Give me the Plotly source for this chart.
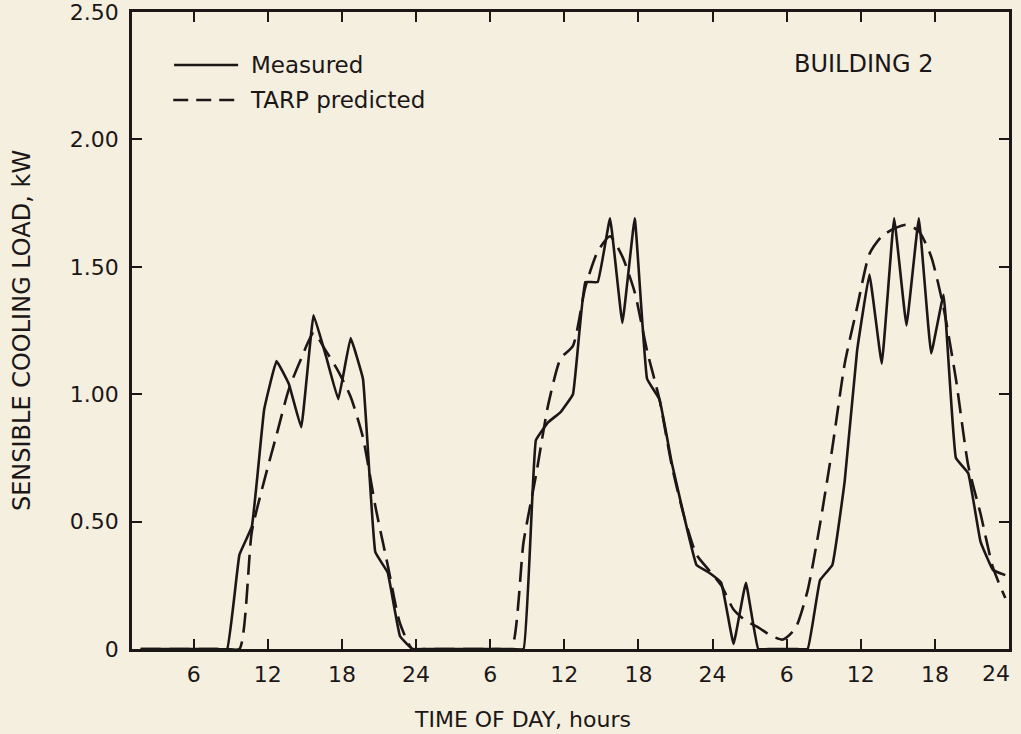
import plotly.graph_objects as go

# Hourly samples (plotted at n + 0.7 h, n = 1..71)
hour_index = list(range(1, 72))
time_h = [n + 0.7 for n in hour_index]

measured_kw = [
    0, 0, 0, 0, 0, 0, 0, 0,            # 1-8
    0.37, 0.48, 0.94, 1.13, 1.04, 0.87, 1.31, 1.15, 0.98, 1.22, 1.06,  # 9-19
    0.38, 0.30, 0.05,                  # 20-22
    0, 0, 0, 0, 0, 0, 0, 0, 0, 0,      # 23-32
    0.82, 0.89, 0.93, 1.00, 1.44, 1.44, 1.69, 1.28, 1.69, 1.06,  # 33-42
    0.98, 0.73, 0.52, 0.33, 0.30, 0.26, 0.02, 0.26,  # 43-50
    0, 0, 0, 0, 0,                     # 51-55
    0.27, 0.33, 0.66, 1.17, 1.47, 1.12, 1.69, 1.27, 1.69, 1.16, 1.39,  # 56-66
    0.75, 0.69, 0.42, 0.31, 0.29,      # 67-71
]

predicted_kw = [
    0, 0, 0, 0, 0, 0, 0, 0, 0,         # 1-9
    0.46, 0.66, 0.84, 1.02, 1.14, 1.24, 1.17, 1.09, 0.99, 0.83,  # 10-19
    0.56, 0.33, 0.10,                  # 20-22
    0, 0, 0, 0, 0, 0, 0, 0, 0,         # 23-31
    0.42, 0.68, 0.96, 1.14, 1.19, 1.42, 1.56, 1.62, 1.54, 1.40,  # 32-41
    1.17, 0.98, 0.72, 0.52, 0.37, 0.31, 0.25, 0.155, 0.11, 0.085,  # 42-51
    0.053, 0.037, 0.08, 0.23, 0.49, 0.79, 1.12, 1.34, 1.55, 1.62,  # 52-61
    1.65, 1.665, 1.64, 1.54, 1.34, 1.06, 0.72, 0.53, 0.32, 0.20,  # 62-71
]

x_tick_vals = [6, 12, 18, 24, 30, 36, 42, 48, 54, 60, 66, 72]
x_tick_text = ["6", "12", "18", "24", "6", "12", "18", "24", "6", "12", "18", "24"]
y_tick_vals = [0, 0.5, 1.0, 1.5, 2.0, 2.5]
y_tick_text = ["0", "0.50", "1.00", "1.50", "2.00", "2.50"]

BG = "#f4efdf"
INK = "#1c1717"
FONT = "DejaVu Sans"

fig = go.Figure()
fig.add_trace(go.Scatter(
    x=time_h, y=measured_kw, mode="lines", name="Measured",
    line=dict(color=INK, width=2.6, shape="spline", smoothing=0.25),
    showlegend=False,
))
fig.add_trace(go.Scatter(
    x=time_h, y=predicted_kw, mode="lines", name="TARP predicted",
    line=dict(color=INK, width=2.6, dash="20px,9px", shape="spline", smoothing=0.6),
    showlegend=False,
))

# manual legend
fig.add_shape(type="line", xref="paper", yref="paper",
              x0=0.048, x1=0.121, y0=0.9168, y1=0.9168,
              line=dict(color=INK, width=2.6))
fig.add_shape(type="line", xref="paper", yref="paper",
              x0=0.047, x1=0.121, y0=0.8619, y1=0.8619,
              line=dict(color=INK, width=2.6, dash="15px,8px"))
fig.add_annotation(text="Measured", xref="paper", yref="paper",
                   x=0.1334, y=0.9168, xanchor="left", yanchor="middle",
                   showarrow=False, font=dict(family=FONT, size=23, color=INK))
fig.add_annotation(text="TARP predicted", xref="paper", yref="paper",
                   x=0.1323, y=0.8619, xanchor="left", yanchor="middle",
                   showarrow=False, font=dict(family=FONT, size=23, color=INK))
fig.add_annotation(text="BUILDING 2", xref="paper", yref="paper",
                   x=0.8347, y=0.9184, xanchor="center", yanchor="middle",
                   showarrow=False, font=dict(family=FONT, size=24, color=INK))
fig.add_annotation(text="TIME OF DAY, hours", xref="paper", yref="paper",
                   x=0.4447, y=0, xanchor="center", yanchor="middle", yshift=-70,
                   showarrow=False, font=dict(family=FONT, size=22, color=INK))
# last tick label sits just inside the right edge, as in the original
fig.add_annotation(text=x_tick_text[-1], xref="paper", yref="paper",
                   x=1, y=0, xanchor="right", yanchor="middle", xshift=3, yshift=-24,
                   showarrow=False, font=dict(family=FONT, size=22, color=INK))

fig.update_xaxes(
    range=[1, 72], tickmode="array", tickvals=x_tick_vals,
    ticktext=x_tick_text[:-1] + [""],
    ticks="inside", ticklen=10, tickwidth=1.8, tickcolor=INK,
    showline=True, linecolor=INK, linewidth=2.6, mirror="ticks",
    showgrid=False, zeroline=False, automargin=False, ticklabelstandoff=4,
    tickfont=dict(family=FONT, size=22, color=INK),
)
fig.update_yaxes(
    range=[0, 2.5], tickmode="array", tickvals=y_tick_vals, ticktext=y_tick_text,
    ticks="inside", ticklen=10, tickwidth=1.8, tickcolor=INK,
    showline=True, linecolor=INK, linewidth=2.6, mirror="ticks",
    showgrid=False, zeroline=False, ticklabelstandoff=6, automargin=False,
    ticklabeloverflow="allow",
    tickfont=dict(family=FONT, size=22, color=INK),
    title=dict(text="SENSIBLE COOLING LOAD, kW", standoff=33,
               font=dict(family=FONT, size=24, color=INK)),
)
fig.update_layout(
    width=1021, height=734,
    margin=dict(l=132, r=12, t=12, b=85, autoexpand=False),
    paper_bgcolor=BG, plot_bgcolor=BG,
    font=dict(family=FONT, color=INK),
)
fig.write_html("out.html")
